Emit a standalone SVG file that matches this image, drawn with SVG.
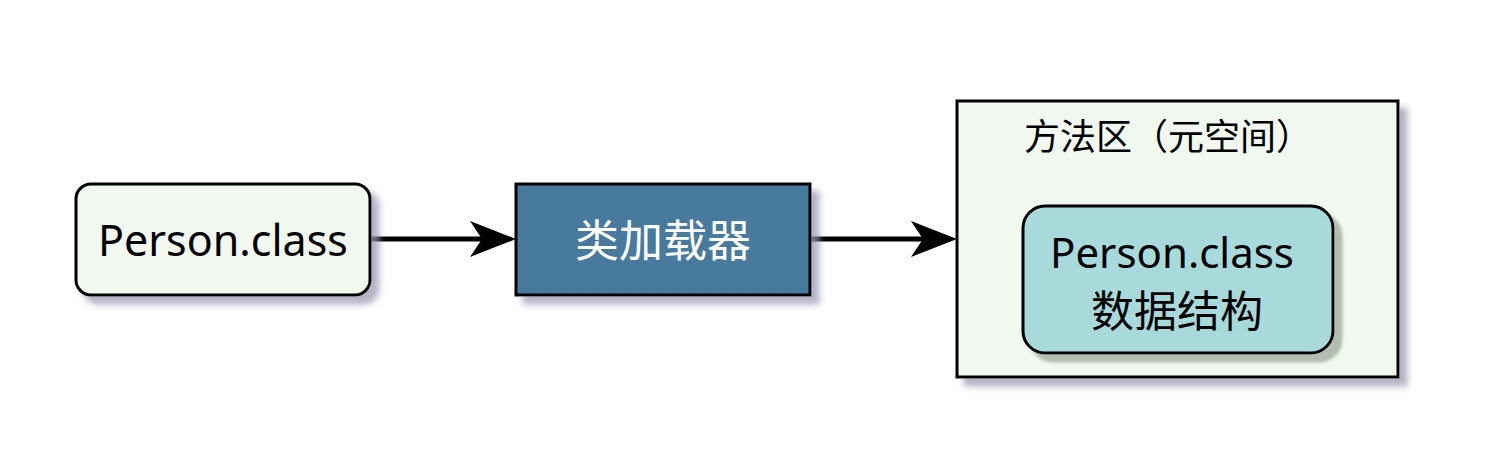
<svg xmlns="http://www.w3.org/2000/svg" width="1496" height="467" viewBox="0 0 1496 467">
<style>
.box{stroke:#000;stroke-width:3}
.t{font-family:"Noto Sans","Noto Sans CJK SC",sans-serif;text-anchor:middle}
.edge{stroke:#000;stroke-width:5;fill:none}
</style>
<defs>
<filter id="sh" x="-10%" y="-10%" width="130%" height="140%">
<feGaussianBlur in="SourceAlpha" stdDeviation="3"/>
<feOffset dx="8" dy="8" result="b"/>
<feFlood flood-color="#9a9ab0" flood-opacity="0.75"/>
<feComposite in2="b" operator="in"/>
<feMerge><feMergeNode/><feMergeNode in="SourceGraphic"/></feMerge>
</filter>
<filter id="sh2" x="-10%" y="-10%" width="130%" height="140%">
<feGaussianBlur in="SourceAlpha" stdDeviation="1.5"/>
<feOffset dx="8" dy="8" result="b"/>
<feFlood flood-color="#b3bcb0"/>
<feComposite in2="b" operator="in"/>
<feMerge><feMergeNode/><feMergeNode in="SourceGraphic"/></feMerge>
</filter>
<marker id="ah" viewBox="0 0 46 36" refX="36" refY="18" markerWidth="46" markerHeight="36" markerUnits="userSpaceOnUse" orient="auto">
<path d="M0,0 L46,18 L0,36 L12,18 Z" fill="#000"/>
</marker>
</defs>
<g id="connectors">
<line class="edge" x1="370" y1="239" x2="506" y2="239" marker-end="url(#ah)"/>
<line class="edge" x1="810" y1="239" x2="947" y2="239" marker-end="url(#ah)"/>
</g>
<g id="node-person-class">
<rect class="box" x="76" y="184" width="294" height="111" rx="15" fill="#f0f8f0" filter="url(#sh)"/>
<text class="t" x="223" y="256" font-size="43" fill="#000">Person.class</text>
</g>
<g id="node-classloader">
<rect class="box" x="516" y="184" width="294" height="111" fill="#467a9c" filter="url(#sh)"/>
<text class="t" x="663" y="257" font-size="44" fill="#fff">类加载器</text>
</g>
<g id="node-method-area">
<rect class="box" x="957" y="101" width="441" height="276" fill="#f0f8f0" filter="url(#sh)"/>
<text class="t" x="1168" y="150" font-size="36" fill="#000">方法区（元空间）</text>
</g>
<g id="node-data-structure">
<rect class="box" x="1023" y="206" width="310" height="147" rx="22" fill="#a8dadc" filter="url(#sh2)"/>
<text class="t" x="1172" y="268" font-size="42" fill="#000">Person.class</text>
<text class="t" x="1177" y="327" font-size="43" fill="#000">数据结构</text>
</g>
</svg>
